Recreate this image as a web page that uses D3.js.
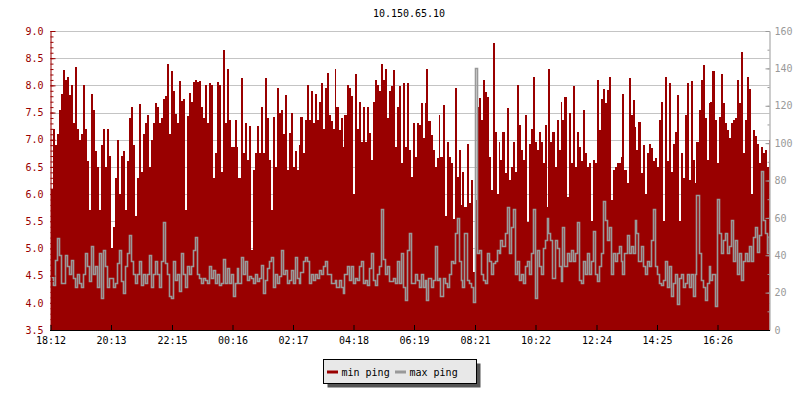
<!DOCTYPE html>
<html>
<head>
<meta charset="utf-8">
<script src="https://cdn.jsdelivr.net/npm/d3@7"></script>
<style>
  html, body { margin: 0; padding: 0; background: #fff; }
  svg { display: block; }
  text { font-family: "DejaVu Sans Mono", monospace; font-size: 10px; }
</style>
</head>
<body>
<svg id="chart" width="800" height="400"></svg>
<script>
// ---------------- DATA ----------------
const title = "10.150.65.10";
const startTime = "18:12";
const minutesPerSample = 4;
const spanMinutes = 1438;
const xTickLabels = ["18:12","20:13","22:15","00:16","02:17","04:18","06:19","08:21","10:22","12:24","14:25","16:26"];
const leftTicks = [3.5,4.0,4.5,5.0,5.5,6.0,6.5,7.0,7.5,8.0,8.5,9.0];
const rightTicks = [0,20,40,60,80,100,120,140,160];
const seriesNames = ["min ping", "max ping"];

// min ping (left axis, ms)
const minPing = [
6.1,7.2,6.9,7.1,7.55,7.85,8.28,8.1,8.15,7.83,
8.0,7.3,8.33,7.2,7.0,7.1,8.0,7.2,6.6,5.7,
7.85,7.55,6.8,6.5,5.7,6.9,7.2,6.5,7.2,6.7,
5.0,5.4,6.3,7.0,6.0,6.7,6.8,5.7,6.6,7.4,
7.6,6.9,5.6,6.3,7.65,6.4,7.1,7.3,7.45,6.5,
7.0,7.3,7.67,7.6,7.3,7.4,7.75,7.8,8.4,7.1,
8.26,7.9,7.47,7.3,8.08,7.72,7.75,5.7,7.43,7.86,
7.7,8.07,8.1,8.06,8.08,7.6,7.4,8.0,7.3,8.05,
8.0,6.3,6.75,8.07,8.0,6.4,8.65,7.3,8.31,7.36,
6.87,6.87,7.36,6.87,6.29,8.13,6.75,7.3,6.63,7.25,
4.97,6.44,6.75,7.25,6.75,7.61,6.75,8.13,7.4,6.63,
5.71,7.42,6.5,7.95,7.49,7.55,7.1,7.82,6.44,7.12,
7.49,6.5,6.8,6.44,6.9,7.42,6.75,7.36,8.0,7.36,
7.9,7.3,7.85,7.36,7.7,8.05,7.2,7.95,8.22,7.45,
7.35,7.2,8.3,7.6,7.18,7.4,6.87,7.45,8.0,7.95,
7.8,6.0,8.2,7.2,7.7,6.95,7.6,6.95,7.6,7.12,
6.63,7.7,8.1,8.0,7.9,8.4,8.1,8.3,7.4,7.9,
7.98,8.28,6.87,7.6,7.98,6.57,8.04,6.87,8.04,6.81,
6.32,7.3,6.69,7.3,7.27,7.67,7.03,7.67,8.31,7.35,
7.09,6.81,6.5,6.66,7.45,6.69,7.64,5.6,6.96,6.69,
6.57,5.55,7.95,6.32,6.81,5.8,6.41,5.77,6.93,5.83,
6.26,4.57,5.89,7.61,7.76,7.36,8.1,7.88,7.79,6.69,
6.08,8.78,7.15,6.01,6.96,6.63,7.15,6.38,7.58,6.26,
6.5,6.96,6.41,8.0,7.27,6.81,6.63,7.45,5.49,6.93,
7.2,8.16,6.96,6.81,7.15,6.96,6.57,7.27,5.77,8.31,
6.96,7.15,6.5,7.36,6.81,7.7,7.36,7.79,5.95,7.49,
6.57,7.98,6.5,7.15,6.87,6.6,7.55,6.75,6.5,6.57,
5.5,6.63,6.57,8.1,7.18,7.75,7.93,7.67,7.92,8.15,
5.9,6.45,6.5,6.57,6.57,6.69,7.85,6.45,6.2,8.13,
7.45,7.73,7.24,6.81,7.33,6.38,6.9,6.0,6.75,6.93,
6.84,6.6,6.66,6.5,7.36,7.7,5.5,8.15,6.6,8.04,
6.41,6.93,7.15,7.82,5.5,6.75,6.3,7.45,8.04,6.26,
8.08,6.63,6.2,6.96,7.55,8.1,8.37,7.4,6.63,7.67,
7.7,8.26,7.36,6.57,7.42,8.21,7.67,7.3,7.18,7.03,
7.3,7.36,7.4,8.1,7.67,8.61,6.75,7.36,8.15,7.94,
6.01,7.18,7.06,6.93,6.57,6.87,6.75,6.81,6.5,7.0
];

// max ping (right axis, ms)
const maxPing = [
28.5,24,37.5,49,40,25,25,40,34,30,
37.5,28,23,30,25,23,30,41,34,26,
45,30,34,23,41,17,43,34,23,28,
28,23,25,36,43,26,20,34,41,51,
37,30,25,30,37,24,30,25,30,40,
23,30,37,30,23,37,58,36,30,18,
17,37,27,30,21,41,30,23,34,30,
34,43,50,30,28,25,28,27,25,34,
28,32,25,30,24,25,38,25,33,25,
30,18,25,33,25,39,30,37,27,29,
28,25,30,26,28,35,20,27,33,37,
39,23,30,25,29,43,30,32,25,27,
32,25,39,28,25,31,37,39,37,25,
30,27,30,28,32,30,34,37,30,30,
25,25,27,23,27,23,20,30,34,27,
34,25,28,27,34,37,25,27,24,33,
41,27,24,30,34,65,38,30,34,26,
26,28,25,37,25,41,23,16,43,52,
25,25,30,27,23,30,23,27,16,28,
23,27,45,27,28,18,28,25,23,30,
37,36,52,60,37,27,23,52,27,25,
23,15,140,41,43,30,27,25,41,37,
30,36,37,43,41,48,45,52,66,41,
55,65,30,37,27,30,25,34,37,30,
41,65,17,43,34,30,44,48,60,52,
48,28,48,44,34,26,55,34,41,37,
43,37,41,58,27,25,37,30,41,30,
37,53,30,26,34,41,69,59,48,55,
30,41,37,41,45,37,30,41,51,41,
45,41,59,52,37,45,34,30,37,34,
48,65,34,30,25,24,27,37,23,34,
18,25,30,14,28,30,23,25,30,23,
30,18,30,72,41,27,23,16,25,34,
27,30,13,70,52,41,48,52,41,45,
59,37,48,30,41,27,37,41,37,45,
37,50,55,42,51,85,59,52,41,50
];

// ---------------- CHART ----------------
const colors = { min: "#990000", max: "#999999", grid: "#c4c4c4", axisX: "#000" };
const plot = { left: 50.5, right: 769.5, top: 31, bottom: 330 };
const FONT = '"DejaVu Sans Mono", monospace';

function toDate(s) {
  const [h, m] = s.split(":").map(Number);
  const d = new Date(2000, 0, 1, h, m);
  const [sh] = startTime.split(":").map(Number);
  if (h < sh) d.setDate(2);
  return d;
}
const t0 = toDate(startTime);
const t1 = new Date(t0.getTime() + spanMinutes * 60000);
const sampleTime = i => new Date(t0.getTime() + i * minutesPerSample * 60000);

const svg = d3.select("#chart");
svg.append("rect").attr("width", 800).attr("height", 400).attr("fill", "#fff");

const x = d3.scaleTime().domain([t0, t1]).range([plot.left, plot.right]);
const yL = d3.scaleLinear().domain([3.5, 9.0]).range([plot.bottom, plot.top]);
const yR = d3.scaleLinear().domain([0, 160]).range([plot.bottom, plot.top]);

svg.append("defs").append("clipPath").attr("id", "clip")
  .append("rect").attr("x", plot.left).attr("y", plot.top - 1)
  .attr("width", plot.right - plot.left).attr("height", plot.bottom - plot.top + 1);

// grid
svg.append("g").selectAll("line").data(leftTicks).join("line")
  .attr("x1", plot.left).attr("x2", plot.right)
  .attr("y1", d => Math.round(yL(d)) + 0.5).attr("y2", d => Math.round(yL(d)) + 0.5)
  .attr("stroke", colors.grid).attr("stroke-width", 1);

// data
const minData = minPing.map((v, i) => ({ t: sampleTime(i), v }));
minData.push({ t: sampleTime(minPing.length), v: minPing[minPing.length - 1] });
const maxData = maxPing.map((v, i) => ({ t: sampleTime(i), v }));
maxData.push({ t: sampleTime(maxPing.length), v: maxPing[maxPing.length - 1] });

const px = d => Math.round(x(d.t));
const g = svg.append("g").attr("clip-path", "url(#clip)");
g.append("path").datum(minData)
  .attr("d", d3.area().x(px).y0(plot.bottom).y1(d => Math.round(yL(d.v))).curve(d3.curveStepAfter))
  .attr("fill", colors.min).attr("shape-rendering", "crispEdges");
g.append("path").datum(maxData)
  .attr("d", d3.line().x(d => px(d) + 0.5).y(d => Math.round(yR(d.v)) + 0.5).curve(d3.curveStepAfter))
  .attr("fill", "none").attr("stroke", colors.max).attr("stroke-width", 1.6);

// left axis
const minorL = d3.range(35, 91).map(v => v / 10);
svg.append("g").attr("transform", `translate(${plot.left},0)`)
  .call(d3.axisLeft(yL).tickValues(minorL).tickSize(-3).tickSizeOuter(0).tickFormat(""))
  .call(s => s.select(".domain").remove())
  .call(s => s.selectAll("line").attr("stroke", colors.min));
svg.append("g").attr("transform", `translate(${plot.left},0)`)
  .call(d3.axisLeft(yL).tickValues(leftTicks).tickSize(-5).tickSizeOuter(0).tickPadding(7).tickFormat(d3.format(".1f")))
  .call(s => s.select(".domain").attr("stroke", colors.min))
  .call(s => s.selectAll("line").attr("stroke", colors.min))
  .call(s => s.selectAll("text").attr("fill", colors.min)
    .style("font-family", FONT).style("font-size", "10px"));

// right axis
const minorR = d3.range(0, 161, 10);
svg.append("g").attr("transform", `translate(${plot.right},0)`)
  .call(d3.axisRight(yR).tickValues(minorR).tickSize(-2).tickSizeOuter(0).tickFormat(""))
  .call(s => s.select(".domain").remove())
  .call(s => s.selectAll("line").attr("stroke", colors.max));
svg.append("g").attr("transform", `translate(${plot.right},0)`)
  .call(d3.axisRight(yR).tickValues(rightTicks).tickSize(-4).tickSizeOuter(0).tickPadding(5))
  .call(s => s.select(".domain").attr("stroke", colors.max))
  .call(s => s.selectAll("line").attr("stroke", colors.max))
  .call(s => s.selectAll("text").attr("fill", colors.max)
    .style("font-family", FONT).style("font-size", "10px"));

// bottom axis
svg.append("g").attr("transform", `translate(0,${plot.bottom})`)
  .call(d3.axisBottom(x).tickValues(xTickLabels.map(toDate)).tickSize(-5).tickSizeOuter(0).tickPadding(7)
    .tickFormat(d3.timeFormat("%H:%M")))
  .call(s => s.select(".domain").attr("stroke", colors.axisX).attr("d", `M${plot.left - 0.5},0.5H${plot.right + 0.5}`))
  .call(s => s.selectAll("line").attr("stroke", colors.axisX))
  .call(s => s.selectAll("text").attr("fill", "#000")
    .style("font-family", FONT).style("font-size", "10px"));

// title
svg.append("text").attr("x", 409).attr("y", 17).attr("text-anchor", "middle")
  .attr("fill", "#000").style("font-size", "10px").text(title);

// legend
const lg = svg.append("g").attr("transform", "translate(323.5,359.5)");
lg.append("rect").attr("x", 4).attr("y", 4).attr("width", 153).attr("height", 24).attr("fill", "#555");
lg.append("rect").attr("x", 0).attr("y", 0).attr("width", 153).attr("height", 24)
  .attr("fill", "#e8e8e8").attr("stroke", "#000").attr("stroke-width", 1);
const items = [
  { name: seriesNames[0], color: colors.min, sx: 3.5, tx: 18 },
  { name: seriesNames[1], color: colors.max, sx: 71.5, tx: 86 }
];
items.forEach(it => {
  lg.append("line").attr("x1", it.sx).attr("x2", it.sx + 11).attr("y1", 12.5).attr("y2", 12.5)
    .attr("stroke", it.color).attr("stroke-width", 3);
  lg.append("text").attr("x", it.tx).attr("y", 16).attr("fill", "#000")
    .style("font-size", "10px").text(it.name);
});
</script>
</body>
</html>
